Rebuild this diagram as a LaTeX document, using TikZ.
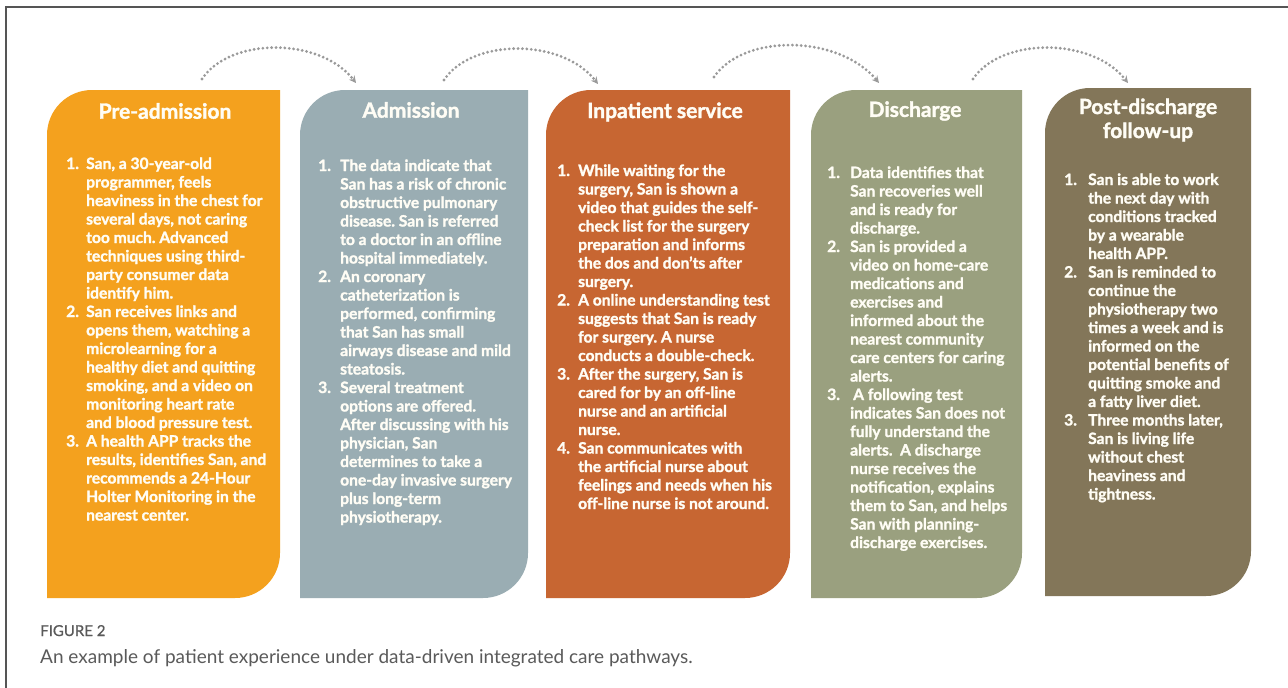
\documentclass[tikz,border=0pt]{standalone}
\usepackage{fontspec}
\setmainfont{Lato}[BoldFeatures={FakeBold=1.6}]
\newfontfamily\capfont{Lato}
\newfontfamily\figfont{Lato}[FakeBold=0.8]
\usetikzlibrary{arrows.meta}
\definecolor{cpre}{HTML}{F4A11E}
\definecolor{cadm}{HTML}{9AADB3}
\definecolor{cinp}{HTML}{C76632}
\definecolor{cdis}{HTML}{9AA07F}
\definecolor{cpost}{HTML}{837659}
\definecolor{framecol}{HTML}{555555}
\definecolor{arrowgray}{HTML}{9A9A9A}
\definecolor{captiongray}{HTML}{5A5A5A}
\definecolor{boxtext}{HTML}{FFFDF5}
\newcommand\stageshape[5]{%
  \fill[#5] (#1,#3+45) arc[start angle=180,end angle=270,radius=45]
    -- (#2,#3) -- (#2,#4-45) arc[start angle=0,end angle=90,radius=45]
    -- (#1,#4) -- cycle;}
\frenchspacing
\begin{document}
\frenchspacing
\begin{tikzpicture}[x=1pt,y=-1pt,
  titletext/.style={text=boxtext,font=\fontsize{21}{24}\selectfont\bfseries,align=center,inner sep=0pt},
  bodytext/.style={text=boxtext,font=\fontsize{15.6}{18.5}\selectfont\bfseries\frenchspacing,anchor=base west,inner sep=0pt},
  flowarrow/.style={draw=arrowgray,line width=3.1pt,dash pattern=on 0pt off 4.4pt,line cap=round,
    -{Stealth[length=7pt,width=7pt,line cap=butt]}},
]
\useasboundingbox (0,0) rectangle (1288,688);
\fill[white] (0,0) rectangle (1288,688);
\draw[framecol,line width=1.1pt] (6,688) -- (6,7) -- (1288,7);

% stage shapes
\stageshape{47}{280}{90}{598}{cpre}
\stageshape{300}{528}{90}{598}{cadm}
\stageshape{546}{790}{90}{598}{cinp}
\stageshape{811}{1022}{90}{598}{cdis}
\stageshape{1045}{1251}{88}{596}{cpost}

% titles
\node[titletext] (t1) at (165,111) {Pre-admission};
\node[titletext] (t2) at (411,110) {Admission};
\node[titletext] (t3) at (665,112) {Inpatient service};
\node[titletext] (t4) at (915,111) {Discharge};
\node[titletext] (t5) at (1148,120) {Post-discharge\\follow-up};

% bodies
\node[bodytext] (b1) at (66,169) {\begin{tabular}[t]{@{}p{20pt}@{}l@{}}
1. & San, a 30-year-old\\
 & programmer, feels\\
 & heaviness in the chest for\\
 & several days, not caring\\
 & too much. Advanced\\
 & techniques using third-\\
 & party consumer data\\
 & identify him.\\
2. & San receives links and\\
 & opens them, watching a\\
 & microlearning for a\\
 & healthy diet and quitting\\
 & smoking, and a video on\\
 & monitoring heart rate\\
 & and blood pressure test.\\
3. & A health APP tracks the\\
 & results, identifies San, and\\
 & recommends a 24-Hour\\
 & Holter Monitoring in the\\
 & nearest center.
\end{tabular}};

\node[bodytext] (b2) at (318,171) {\begin{tabular}[t]{@{}p{22pt}@{}l@{}}
1. & The data indicate that\\
 & San has a risk of chronic\\
 & obstructive pulmonary\\
 & disease. San is referred\\
 & to a doctor in an offline\\
 & hospital immediately.\\
2. & An coronary\\
 & catheterization is\\
 & performed, confirming\\
 & that San has small\\
 & airways disease and mild\\
 & steatosis.\\
3. & Several treatment\\
 & options are offered.\\
 & After discussing with his\\
 & physician, San\\
 & determines to take a\\
 & one-day invasive surgery\\
 & plus long-term\\
 & physiotherapy.
\end{tabular}};

\node[bodytext] (b3) at (557,176) {\begin{tabular}[t]{@{}p{21pt}@{}l@{}}
1. & While waiting for the\\
 & surgery, San is shown a\\
 & video that guides the self-\\
 & check list for the surgery\\
 & preparation and informs\\
 & the dos and don’ts after\\
 & surgery.\\
2. & A online understanding test\\
 & suggests that San is ready\\
 & for surgery. A nurse\\
 & conducts a double-check.\\
3. & After the surgery, San is\\
 & cared for by an off-line\\
 & nurse and an artificial\\
 & nurse.\\
4. & San communicates with\\
 & the artificial nurse about\\
 & feelings and needs when his\\
 & off-line nurse is not around.
\end{tabular}};

\node[bodytext] (b4) at (827,178) {\begin{tabular}[t]{@{}p{23pt}@{}l@{}}
1. & Data identifies that\\
 & San recoveries well\\
 & and is ready for\\
 & discharge.\\
2. & San is provided a\\
 & video on home-care\\
 & medications and\\
 & exercises and\\
 & informed about the\\
 & nearest community\\
 & care centers for caring\\
 & alerts.\\
3. & \hspace{3pt}A following test\\
 & indicates San does not\\
 & fully understand the\\
 & alerts.\ \ A discharge\\
 & nurse receives the\\
 & notification, explains\\
 & them to San, and helps\\
 & San with planning-\\
 & discharge exercises.
\end{tabular}};

\node[bodytext] (b5) at (1064,185) {\begin{tabular}[t]{@{}p{24pt}@{}l@{}}
1. & San is able to work\\
 & the next day with\\
 & conditions tracked\\
 & by a wearable\\
 & health APP.\\
2. & San is reminded to\\
 & continue the\\
 & physiotherapy two\\
 & times a week and is\\
 & informed on the\\
 & potential benefits of\\
 & quitting smoke and\\
 & a fatty liver diet.\\
3. & Three months later,\\
 & San is living life\\
 & without chest\\
 & heaviness and\\
 & tightness.
\end{tabular}};

% arrows
\coordinate (a1s) at (202,79); \coordinate (a1e) at (356,83);
\coordinate (a2s) at (444,80); \coordinate (a2e) at (598,84);
\coordinate (a3s) at (714,77); \coordinate (a3e) at (879,83);
\coordinate (a4s) at (973,79); \coordinate (a4e) at (1128,83);
\draw[flowarrow] (a1s) .. controls +(28,-42) and +(-36,-46) .. (a1e);
\draw[flowarrow] (a2s) .. controls +(28,-42) and +(-36,-46) .. (a2e);
\draw[flowarrow] (a3s) .. controls +(30,-44) and +(-40,-48) .. (a3e);
\draw[flowarrow] (a4s) .. controls +(28,-42) and +(-36,-46) .. (a4e);

% caption
\node[anchor=base west,inner sep=0pt,text=captiongray,font=\figfont\fontsize{15}{16}\selectfont] (fig) at (40,636) {FIGURE 2};
\node[anchor=base west,inner sep=0pt,text=captiongray,font=\capfont\fontsize{19}{22}\selectfont] (cap) at (40,663) {An example of patient experience under data-driven integrated care pathways.};
\end{tikzpicture}
\end{document}
